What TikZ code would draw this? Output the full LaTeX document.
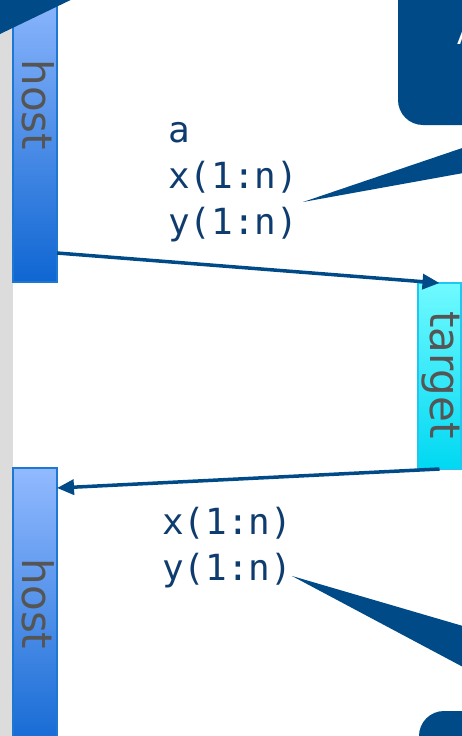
\documentclass[tikz,border=0pt]{standalone}
\usepackage{fontspec}
\newfontfamily\lblfont{DejaVu Sans}
\newfontfamily\codefont{DejaVu Sans Mono}
\usetikzlibrary{arrows.meta}
\definecolor{navy}{HTML}{004B87}
\definecolor{codeblue}{HTML}{0F3C6E}
\definecolor{lblgray}{HTML}{555555}
\definecolor{stripgray}{HTML}{DCDCDC}
\definecolor{hosttop}{HTML}{92BAFF}
\definecolor{hostbot}{HTML}{0F66D2}
\definecolor{hostedge}{HTML}{1E78D2}
\definecolor{tgttop}{HTML}{70FAFF}
\definecolor{tgtbot}{HTML}{00D8F2}
\definecolor{tgtedge}{HTML}{1EC8F0}
\tikzset{
  hostbox/.style={draw=hostedge, line width=1.5pt, top color=hosttop, bottom color=hostbot,
    minimum width=44pt, inner sep=0pt, outer sep=0pt},
  tgtbox/.style={draw=tgtedge, line width=1.5pt, top color=tgttop, bottom color=tgtbot,
    minimum width=43pt, inner sep=0pt, outer sep=0pt},
  lbl/.style={text=lblgray, font=\lblfont\fontsize{42}{50}\selectfont, inner sep=0pt, rotate=-90, anchor=base},
  code/.style={text=codeblue, font=\codefont\fontsize{36}{46}\selectfont, inner sep=0pt, anchor=base west},
  arr/.style={draw=navy, line width=3.5pt, -{Triangle[length=17pt,width=15pt]}},
  callout/.style={fill=navy, rounded corners=25pt},
}
\begin{document}
\begin{tikzpicture}[x=1pt,y=-1pt]
\useasboundingbox (0,0) rectangle (462,736);
% gray strip
\fill[stripgray] (0,0) rectangle (13,736);
% boxes
\node[hostbox, minimum height=300pt, anchor=south west] (host1) at (13,282) {};
\node[hostbox, minimum height=290pt, anchor=north west] (host2) at (13,468) {};
\node[tgtbox, minimum height=186pt, anchor=north west] (target) at (418,283) {};
% labels
\node[lbl] (host1lbl) at (23,105) {host};
\node[lbl] (host2lbl) at (23,604) {host};
\node[lbl] (tgtlbl) at (430,375) {target};
% top-left corner wedge
\fill[navy] (0,-5) -- (81,-5) -- (0,34) -- cycle;
% callouts
\fill[callout] (398,-60) rectangle (560,125);
\node[text=white, font=\lblfont\fontsize{28}{28}\selectfont, inner sep=0pt, anchor=base west] (calltxt) at (457,44) {A};
\fill[navy] (303,202) -- (480,142) -- (480,170) -- cycle;
\fill[callout] (419,711) rectangle (560,800);
\fill[navy] (292,576) -- (480,631) -- (480,676) -- cycle;
% code texts
\node[code] (ta) at (168,142) {a};
\node[code] (tx1) at (168,188) {x(1:n)};
\node[code] (ty1) at (168,234) {y(1:n)};
\node[code] (tx2) at (162,534) {x(1:n)};
\node[code] (ty2) at (162,580) {y(1:n)};
% arrows
\coordinate (h1out) at (57,253);
\coordinate (h2in) at (57,488);
\draw[arr] (h1out) -- (target.north);
\draw[arr] (target.south) -- (h2in);
\end{tikzpicture}
\end{document}
